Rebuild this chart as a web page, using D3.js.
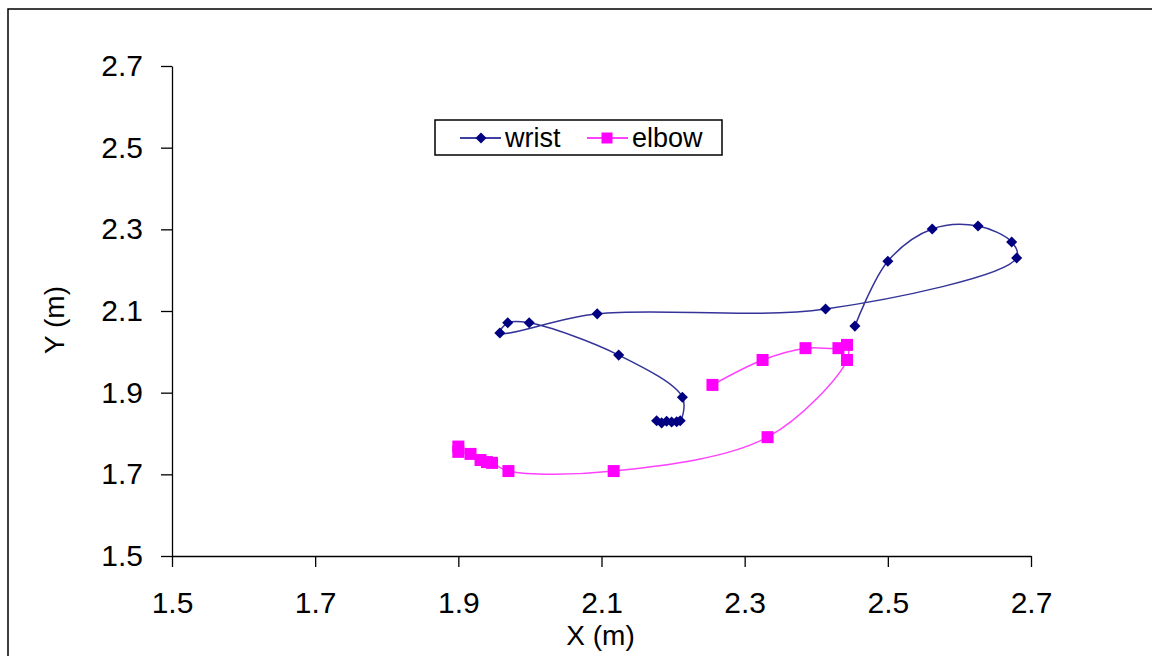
<!DOCTYPE html>
<html>
<head>
<meta charset="utf-8">
<script src="https://cdn.jsdelivr.net/npm/d3@7"></script>
<style>
  body { margin: 0; background: #fff; }
  svg { display: block; font-family: "Liberation Sans", Arial, sans-serif; }
</style>
</head>
<body>
<svg id="chart" width="1152" height="656"></svg>
<script>
// wrist trajectory (m)
const wristX = [2.177, 2.184, 2.191, 2.198, 2.205, 2.210, 2.213, 2.124, 1.999, 1.969, 1.958, 2.094, 2.413, 2.680, 2.673, 2.626, 2.562, 2.500, 2.454];
const wristY = [1.831, 1.826, 1.830, 1.828, 1.829, 1.831, 1.889, 1.992, 2.071, 2.071, 2.046, 2.093, 2.105, 2.230, 2.269, 2.308, 2.301, 2.222, 2.063];

// elbow trajectory (m)
const elbowX = [1.900, 1.900, 1.917, 1.931, 1.940, 1.947, 1.970, 2.117, 2.332, 2.443, 2.443, 2.431, 2.385, 2.325, 2.255];
const elbowY = [1.768, 1.755, 1.750, 1.735, 1.730, 1.728, 1.708, 1.708, 1.791, 1.980, 2.017, 2.009, 2.009, 1.980, 1.919];

const xTicks = [1.5, 1.7, 1.9, 2.1, 2.3, 2.5, 2.7];
const yTicks = [1.5, 1.7, 1.9, 2.1, 2.3, 2.5, 2.7];

const svg = d3.select("#chart");

// outer chart frame (cropped at right / bottom)
svg.append("rect")
    .attr("x", 8).attr("y", 9)
    .attr("width", 1200).attr("height", 700)
    .attr("fill", "none")
    .attr("stroke", "#000")
    .attr("stroke-width", 1.5);

const plotL = 172, plotR = 1031, plotT = 66, plotB = 556;

const x = d3.scaleLinear().domain([1.5, 2.7]).range([plotL, plotR]);
const y = d3.scaleLinear().domain([1.5, 2.7]).range([plotB, plotT]);

const xAxis = svg.append("g")
    .attr("transform", `translate(0,${plotB})`)
    .call(d3.axisBottom(x).tickValues(xTicks).tickFormat(d3.format(".1f"))
      .tickSize(11).tickSizeOuter(0).tickPadding(25));

const yAxis = svg.append("g")
    .attr("transform", `translate(${plotL},0)`)
    .call(d3.axisLeft(y).tickValues(yTicks).tickFormat(d3.format(".1f"))
      .tickSize(11).tickSizeOuter(0).tickPadding(18));

[xAxis, yAxis].forEach(g => {
  g.selectAll("path, line").attr("stroke", "#000").attr("stroke-width", 1.3);
  g.selectAll("text").attr("font-size", 30).attr("fill", "#000")
    .attr("font-family", "'Liberation Sans', Arial, sans-serif");
});

svg.append("text")
    .attr("x", (plotL + plotR) / 2 - 1)
    .attr("y", 645)
    .attr("text-anchor", "middle")
    .attr("font-size", 28)
    .text("X (m)");

svg.append("text")
    .attr("transform", `translate(64,${(plotT + plotB) / 2 + 9}) rotate(-90)`)
    .attr("text-anchor", "middle")
    .attr("font-size", 28)
    .text("Y (m)");

const line = d3.line()
    .x(d => x(d[0]))
    .y(d => y(d[1]))
    .curve(d3.curveCatmullRom.alpha(0.5));

const wrist = wristX.map((v, i) => [v, wristY[i]]);
const elbow = elbowX.map((v, i) => [v, elbowY[i]]);

const wristColor = "#000080", elbowColor = "#ff00ff";
const diamond = d3.symbol().type(d3.symbolDiamond2).size(78);

svg.append("path")
    .attr("d", line(elbow))
    .attr("fill", "none")
    .attr("stroke", elbowColor)
    .attr("stroke-opacity", 0.75)
    .attr("stroke-width", 1.5);

svg.append("g").selectAll("rect")
    .data(elbow)
    .join("rect")
    .attr("x", d => x(d[0]) - 6)
    .attr("y", d => y(d[1]) - 6)
    .attr("width", 12).attr("height", 12)
    .attr("fill", elbowColor);

svg.append("path")
    .attr("d", line(wrist))
    .attr("fill", "none")
    .attr("stroke", wristColor)
    .attr("stroke-opacity", 0.8)
    .attr("stroke-width", 1.5);

svg.append("g").selectAll("path")
    .data(wrist)
    .join("path")
    .attr("d", diamond)
    .attr("transform", d => `translate(${x(d[0])},${y(d[1])})`)
    .attr("fill", wristColor);

// legend
const legend = svg.append("g");
legend.append("rect")
    .attr("x", 435).attr("y", 120)
    .attr("width", 287).attr("height", 35)
    .attr("fill", "#fff")
    .attr("stroke", "#000")
    .attr("stroke-width", 1.5);

const items = [
  {name: "wrist", color: wristColor, x0: 460},
  {name: "elbow", color: elbowColor, x0: 587}
];
items.forEach(it => {
  legend.append("line")
      .attr("x1", it.x0).attr("x2", it.x0 + 41)
      .attr("y1", 138).attr("y2", 138)
      .attr("stroke", it.color).attr("stroke-width", 1.5);
  if (it.name === "wrist") {
    legend.append("path")
        .attr("d", diamond)
        .attr("transform", `translate(${it.x0 + 21},138)`)
        .attr("fill", it.color);
  } else {
    legend.append("rect")
        .attr("x", it.x0 + 20 - 5.5).attr("y", 138 - 5.5)
        .attr("width", 11).attr("height", 11)
        .attr("fill", it.color);
  }
  legend.append("text")
      .attr("x", it.x0 + 45)
      .attr("y", 147)
      .attr("font-size", 27)
      .text(it.name);
});
</script>
</body>
</html>
